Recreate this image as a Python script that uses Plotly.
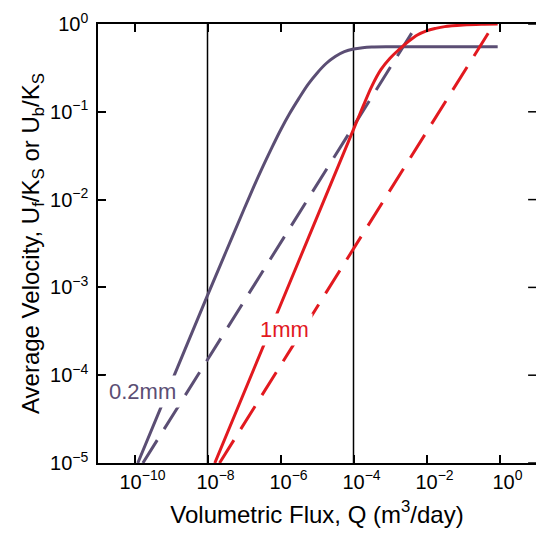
import plotly.graph_objects as go

# ---- data (log-log) ----
# 0.2 mm, solid (U_f/K_S)
q_02_solid = [10**-9.91, 10**-9.0, 10**-8.0, 10**-7.5, 10**-7.0, 10**-6.75, 10**-6.5,
              10**-6.25, 10**-6.0, 10**-5.75, 10**-5.5, 10**-5.25, 10**-5.0, 10**-4.75,
              10**-4.5, 10**-4.25, 10**-4.0, 10**-3.75, 10**-3.5, 10**-3.0, 10**-0.05]
u_02_solid = [10**-5.0, 10**-4.09, 10**-3.09, 10**-2.6, 10**-2.11, 10**-1.87, 10**-1.64,
              10**-1.42, 10**-1.21, 10**-1.02, 10**-0.85, 10**-0.69, 10**-0.56, 10**-0.45,
              10**-0.37, 10**-0.315, 10**-0.285, 10**-0.27, 10**-0.263, 10**-0.26, 10**-0.26]
# 0.2 mm, dashed (U_b/K_S)
q_02_dash = [10**-9.77, 10**-2.25]
u_02_dash = [10**-5.0, 10**0.0]
# 1 mm, solid
q_1_solid = [10**-7.8, 10**-6.0, 10**-4.0, 10**-3.75, 10**-3.5, 10**-3.25, 10**-3.0,
             10**-2.75, 10**-2.5, 10**-2.25, 10**-2.0, 10**-1.75, 10**-1.5, 10**-1.0,
             10**-0.5, 10**-0.05]
u_1_solid = [10**-5.0, 10**-3.2, 10**-1.2, 10**-0.95, 10**-0.71, 10**-0.52, 10**-0.39,
             10**-0.29, 10**-0.2, 10**-0.125, 10**-0.078, 10**-0.05, 10**-0.03, 10**-0.012,
             10**-0.003, 10**0.0]
# 1 mm, dashed
q_1_dash = [10**-7.67, 10**-0.31]
u_1_dash = [10**-5.0, 10**-0.106]

vlines_q = [1e-8, 1e-4]

x_tickvals = [1e-10, 1e-8, 1e-6, 1e-4, 1e-2, 1e0]
x_ticktext = ["10<sup>−10</sup>", "10<sup>−8</sup>", "10<sup>−6</sup>",
              "10<sup>−4</sup>", "10<sup>−2</sup>", "10<sup>0</sup>"]
y_tickvals = [1e-5, 1e-4, 1e-3, 1e-2, 1e-1, 1e0]
y_ticktext = ["10<sup>−5</sup>", "10<sup>−4</sup>", "10<sup>−3</sup>",
              "10<sup>−2</sup>", "10<sup>−1</sup>", "10<sup>0</sup>"]

PURPLE = "#5b4e74"
RED = "#e2191f"
FONT = "Liberation Sans, Arial, Helvetica, sans-serif"
DASH = "27px,13px"

fig = go.Figure()
fig.add_trace(go.Scatter(x=q_02_solid, y=u_02_solid, mode="lines",
                         line=dict(color=PURPLE, width=3, shape="spline", smoothing=1.0),
                         showlegend=False))
fig.add_trace(go.Scatter(x=q_02_dash, y=u_02_dash, mode="lines",
                         line=dict(color=PURPLE, width=3, dash=DASH),
                         showlegend=False))
fig.add_trace(go.Scatter(x=q_1_solid, y=u_1_solid, mode="lines",
                         line=dict(color=RED, width=3, shape="spline", smoothing=1.0),
                         showlegend=False))
fig.add_trace(go.Scatter(x=q_1_dash, y=u_1_dash, mode="lines",
                         line=dict(color=RED, width=3, dash=DASH),
                         showlegend=False))

for q in vlines_q:
    fig.add_shape(type="line", xref="x", yref="paper", x0=q, x1=q, y0=0, y1=1,
                  line=dict(color="black", width=1.5), layer="below")

# right-hand inward ticks (the frame's right edge lies just outside the picture)
for yv in y_tickvals:
    fig.add_shape(type="line", xref="paper", yref="y", x0=1.0, x1=0.982, y0=yv, y1=yv,
                  line=dict(color="black", width=1.5))

fig.add_annotation(x=-9.77, y=-4.18, xref="x", yref="y", text="0.2mm", showarrow=False,
                   font=dict(family=FONT, size=22, color=PURPLE), bgcolor="white", borderpad=3)
fig.add_annotation(x=-5.88, y=-3.485, xref="x", yref="y", text="1mm", showarrow=False,
                   font=dict(family=FONT, size=22, color=RED), bgcolor="white", borderpad=3)

axis_common = dict(type="log", ticks="inside", ticklen=8, tickwidth=1.5, tickcolor="black",
                   showgrid=False, zeroline=False,
                   tickfont=dict(family=FONT, size=20, color="black"))

fig.update_layout(
    width=536, height=533,
    margin=dict(l=98, r=0, t=24, b=70),
    plot_bgcolor="white", paper_bgcolor="white",
    font=dict(family=FONT, color="black"),
    xaxis=dict(**axis_common, range=[-11, 1], tickvals=x_tickvals, ticktext=x_ticktext,
               showline=True, linecolor="black", linewidth=1.5, mirror="ticks",
               ticklabelshift=8,
               title=dict(text="Volumetric Flux, Q (m<sup>3</sup>/day)",
                          font=dict(family=FONT, size=24), standoff=14)),
    yaxis=dict(**axis_common, range=[-5, 0], tickvals=y_tickvals, ticktext=y_ticktext,
               showline=True, linecolor="black", linewidth=1.5, mirror=False,
               ticklabelstandoff=4,
               title=dict(text="Average Velocity, U<sub>f</sub>/K<sub>S</sub> or U<sub>b</sub>/K<sub>S</sub>",
                          font=dict(family=FONT, size=24), standoff=4)),
)

fig.write_html("out.html")
